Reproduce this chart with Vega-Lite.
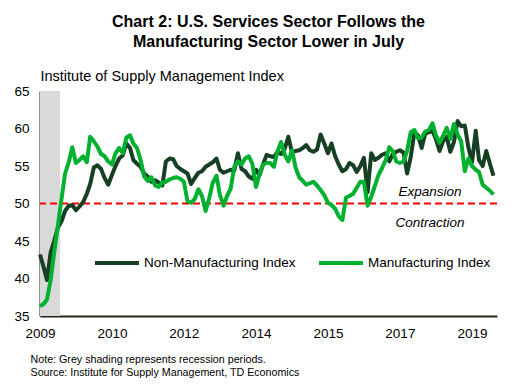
{
  "$schema": "https://vega.github.io/schema/vega-lite/v6.json",
  "width": 457,
  "height": 225,
  "autosize": {"type": "none"},
  "padding": {"left": 40, "top": 91, "right": 21, "bottom": 69},
  "background": "white",
  "title": {
    "text": ["Chart 2: U.S. Services Sector Follows the", "Manufacturing Sector Lower in July"],
    "font": "Liberation Sans",
    "fontSize": 16,
    "fontWeight": "bold",
    "color": "black",
    "anchor": "middle",
    "lineHeight": 20,
    "offset": 18
  },
  "config": {
    "view": {"stroke": null},
    "font": "Liberation Sans",
    "axis": {"grid": false, "ticks": false, "labelOverlap": false, "labelFlush": false, "labelColor": "black", "titleColor": "black", "domainColor": "#262616", "domainWidth": 2, "labelFont": "Liberation Sans", "titleFont": "Liberation Sans"},
    "axisX": {
      "format": "%Y",
      "labelFontSize": 13.5,
      "labelPadding": 10,
      "titleFontSize": 10.7,
      "titleFontWeight": "normal",
      "titleAnchor": "start",
      "titleAlign": "left",
      "titleBaseline": "alphabetic",
      "titleX": -10,
      "titleY": 46,
      "titleLineHeight": 13
    },
    "axisY": {
      "labelFontSize": 13.5,
      "labelPadding": 11,
      "titleAngle": 0,
      "titleX": 0,
      "titleY": -11,
      "titleAlign": "left",
      "titleBaseline": "alphabetic",
      "titleFontSize": 14.5,
      "titleFontWeight": "normal"
    }
  },
  "layer": [
    {
      "data": {"values": [{"start": "2009-01-01", "end": "2009-06-20"}]},
      "mark": {"type": "rect", "color": "#d9d9d9"},
      "encoding": {
        "x": {"field": "start", "type": "temporal", "title": ["Note: Grey shading represents recession periods.", "Source: Institute for Supply Management, TD Economics"],
          "axis": {"labelOverlap": false, "format": "%Y", "values": [
            {"year": 2009, "month": 1, "date": 1, "utc": true},
            {"year": 2010, "month": 9, "date": 1, "utc": true},
            {"year": 2012, "month": 5, "date": 1, "utc": true},
            {"year": 2014, "month": 1, "date": 1, "utc": true},
            {"year": 2015, "month": 9, "date": 1, "utc": true},
            {"year": 2017, "month": 5, "date": 1, "utc": true},
            {"year": 2019, "month": 1, "date": 1, "utc": true}
          ]}},
        "x2": {"field": "end"}
      }
    },
    {
      "data": {"values": [{"level": 50}]},
      "mark": {"type": "rule", "color": "#ff0000", "strokeWidth": 2, "strokeDash": [7, 4]},
      "encoding": {
        "y": {"field": "level", "type": "quantitative", "title": "Institute of Supply Management Index", "scale": {"domain": [35, 65], "nice": false, "zero": false}, "axis": {"labelOverlap": false, "values": [35, 40, 45, 50, 55, 60, 65]}}
      }
    },
    {
      "data": {"values": [
        {"d": "2009-01-01", "nonmanufacturing": 43.2, "manufacturing": 36.3},
        {"d": "2009-02-01", "nonmanufacturing": 41.5, "manufacturing": 36.6},
        {"d": "2009-03-01", "nonmanufacturing": 39.8, "manufacturing": 37.2},
        {"d": "2009-04-01", "nonmanufacturing": 43.5, "manufacturing": 39.8},
        {"d": "2009-05-01", "nonmanufacturing": 45.0, "manufacturing": 43.5},
        {"d": "2009-06-01", "nonmanufacturing": 46.8, "manufacturing": 47.0},
        {"d": "2009-07-01", "nonmanufacturing": 47.6, "manufacturing": 50.5},
        {"d": "2009-08-01", "nonmanufacturing": 49.0, "manufacturing": 54.0},
        {"d": "2009-09-01", "nonmanufacturing": 49.7, "manufacturing": 55.5},
        {"d": "2009-10-01", "nonmanufacturing": 49.8, "manufacturing": 57.5},
        {"d": "2009-11-01", "nonmanufacturing": 49.1, "manufacturing": 55.4},
        {"d": "2009-12-01", "nonmanufacturing": 49.6, "manufacturing": 55.8},
        {"d": "2010-01-01", "nonmanufacturing": 50.2, "manufacturing": 56.3},
        {"d": "2010-02-01", "nonmanufacturing": 51.3, "manufacturing": 55.5},
        {"d": "2010-03-01", "nonmanufacturing": 52.6, "manufacturing": 58.9},
        {"d": "2010-04-01", "nonmanufacturing": 54.8, "manufacturing": 58.3},
        {"d": "2010-05-01", "nonmanufacturing": 55.1, "manufacturing": 57.6},
        {"d": "2010-06-01", "nonmanufacturing": 54.6, "manufacturing": 56.6},
        {"d": "2010-07-01", "nonmanufacturing": 53.4, "manufacturing": 56.3},
        {"d": "2010-08-01", "nonmanufacturing": 52.5, "manufacturing": 55.6},
        {"d": "2010-09-01", "nonmanufacturing": 53.8, "manufacturing": 55.2},
        {"d": "2010-10-01", "nonmanufacturing": 55.0, "manufacturing": 56.7},
        {"d": "2010-11-01", "nonmanufacturing": 56.0, "manufacturing": 57.4},
        {"d": "2010-12-01", "nonmanufacturing": 56.4, "manufacturing": 56.7},
        {"d": "2011-01-01", "nonmanufacturing": 58.0, "manufacturing": 58.8},
        {"d": "2011-02-01", "nonmanufacturing": 57.4, "manufacturing": 59.1},
        {"d": "2011-03-01", "nonmanufacturing": 55.8, "manufacturing": 58.0},
        {"d": "2011-04-01", "nonmanufacturing": 55.3, "manufacturing": 57.4},
        {"d": "2011-05-01", "nonmanufacturing": 54.9, "manufacturing": 55.8},
        {"d": "2011-06-01", "nonmanufacturing": 54.0, "manufacturing": 53.6},
        {"d": "2011-07-01", "nonmanufacturing": 53.6, "manufacturing": 53.0},
        {"d": "2011-08-01", "nonmanufacturing": 52.9, "manufacturing": 53.5},
        {"d": "2011-09-01", "nonmanufacturing": 53.1, "manufacturing": 52.4},
        {"d": "2011-10-01", "nonmanufacturing": 52.8, "manufacturing": 52.2},
        {"d": "2011-11-01", "nonmanufacturing": 52.4, "manufacturing": 52.8},
        {"d": "2011-12-01", "nonmanufacturing": 55.6, "manufacturing": 52.9},
        {"d": "2012-01-01", "nonmanufacturing": 56.0, "manufacturing": 53.2},
        {"d": "2012-02-01", "nonmanufacturing": 55.9, "manufacturing": 53.4},
        {"d": "2012-03-01", "nonmanufacturing": 55.0, "manufacturing": 53.5},
        {"d": "2012-04-01", "nonmanufacturing": 54.6, "manufacturing": 53.3},
        {"d": "2012-05-01", "nonmanufacturing": 54.3, "manufacturing": 52.9},
        {"d": "2012-06-01", "nonmanufacturing": 54.0, "manufacturing": 50.3},
        {"d": "2012-07-01", "nonmanufacturing": 52.6, "manufacturing": 50.1},
        {"d": "2012-08-01", "nonmanufacturing": 53.4, "manufacturing": 50.6},
        {"d": "2012-09-01", "nonmanufacturing": 54.1, "manufacturing": 51.9},
        {"d": "2012-10-01", "nonmanufacturing": 54.3, "manufacturing": 51.0},
        {"d": "2012-11-01", "nonmanufacturing": 54.9, "manufacturing": 49.0},
        {"d": "2012-12-01", "nonmanufacturing": 55.2, "manufacturing": 50.7},
        {"d": "2013-01-01", "nonmanufacturing": 55.5, "manufacturing": 52.8},
        {"d": "2013-02-01", "nonmanufacturing": 56.0, "manufacturing": 53.7},
        {"d": "2013-03-01", "nonmanufacturing": 54.5, "manufacturing": 51.2},
        {"d": "2013-04-01", "nonmanufacturing": 54.1, "manufacturing": 49.7},
        {"d": "2013-05-01", "nonmanufacturing": 54.3, "manufacturing": 51.0},
        {"d": "2013-06-01", "nonmanufacturing": 54.5, "manufacturing": 52.0},
        {"d": "2013-07-01", "nonmanufacturing": 54.4, "manufacturing": 54.9},
        {"d": "2013-08-01", "nonmanufacturing": 56.7, "manufacturing": 55.6},
        {"d": "2013-09-01", "nonmanufacturing": 54.6, "manufacturing": 55.2},
        {"d": "2013-10-01", "nonmanufacturing": 54.3, "manufacturing": 56.0},
        {"d": "2013-11-01", "nonmanufacturing": 53.6, "manufacturing": 56.3},
        {"d": "2013-12-01", "nonmanufacturing": 53.3, "manufacturing": 55.3},
        {"d": "2014-01-01", "nonmanufacturing": 54.5, "manufacturing": 52.2},
        {"d": "2014-02-01", "nonmanufacturing": 53.8, "manufacturing": 54.0},
        {"d": "2014-03-01", "nonmanufacturing": 55.2, "manufacturing": 55.2},
        {"d": "2014-04-01", "nonmanufacturing": 56.5, "manufacturing": 55.4},
        {"d": "2014-05-01", "nonmanufacturing": 56.3, "manufacturing": 55.4},
        {"d": "2014-06-01", "nonmanufacturing": 56.2, "manufacturing": 54.9},
        {"d": "2014-07-01", "nonmanufacturing": 56.9, "manufacturing": 56.9},
        {"d": "2014-08-01", "nonmanufacturing": 56.6, "manufacturing": 58.2},
        {"d": "2014-09-01", "nonmanufacturing": 57.3, "manufacturing": 56.5},
        {"d": "2014-10-01", "nonmanufacturing": 58.9, "manufacturing": 55.6},
        {"d": "2014-11-01", "nonmanufacturing": 56.8, "manufacturing": 57.1},
        {"d": "2014-12-01", "nonmanufacturing": 57.0, "manufacturing": 54.8},
        {"d": "2015-01-01", "nonmanufacturing": 57.1, "manufacturing": 53.5},
        {"d": "2015-02-01", "nonmanufacturing": 57.4, "manufacturing": 53.0},
        {"d": "2015-03-01", "nonmanufacturing": 57.8, "manufacturing": 52.5},
        {"d": "2015-04-01", "nonmanufacturing": 57.1, "manufacturing": 52.7},
        {"d": "2015-05-01", "nonmanufacturing": 56.9, "manufacturing": 52.9},
        {"d": "2015-06-01", "nonmanufacturing": 57.2, "manufacturing": 52.4},
        {"d": "2015-07-01", "nonmanufacturing": 59.2, "manufacturing": 51.8},
        {"d": "2015-08-01", "nonmanufacturing": 58.0, "manufacturing": 51.1},
        {"d": "2015-09-01", "nonmanufacturing": 56.7, "manufacturing": 50.1},
        {"d": "2015-10-01", "nonmanufacturing": 58.0, "manufacturing": 49.8},
        {"d": "2015-11-01", "nonmanufacturing": 56.3, "manufacturing": 49.3},
        {"d": "2015-12-01", "nonmanufacturing": 55.2, "manufacturing": 48.3},
        {"d": "2016-01-01", "nonmanufacturing": 54.3, "manufacturing": 47.8},
        {"d": "2016-02-01", "nonmanufacturing": 54.6, "manufacturing": 50.8},
        {"d": "2016-03-01", "nonmanufacturing": 55.4, "manufacturing": 51.0},
        {"d": "2016-04-01", "nonmanufacturing": 55.1, "manufacturing": 51.3},
        {"d": "2016-05-01", "nonmanufacturing": 54.2, "manufacturing": 52.1},
        {"d": "2016-06-01", "nonmanufacturing": 55.0, "manufacturing": 52.9},
        {"d": "2016-07-01", "nonmanufacturing": 56.1, "manufacturing": 52.9},
        {"d": "2016-08-01", "nonmanufacturing": 51.5, "manufacturing": 49.7},
        {"d": "2016-09-01", "nonmanufacturing": 56.7, "manufacturing": 50.9},
        {"d": "2016-10-01", "nonmanufacturing": 55.8, "manufacturing": 52.3},
        {"d": "2016-11-01", "nonmanufacturing": 56.1, "manufacturing": 53.8},
        {"d": "2016-12-01", "nonmanufacturing": 56.5, "manufacturing": 54.7},
        {"d": "2017-01-01", "nonmanufacturing": 56.7, "manufacturing": 55.8},
        {"d": "2017-02-01", "nonmanufacturing": 55.6, "manufacturing": 57.5},
        {"d": "2017-03-01", "nonmanufacturing": 56.6, "manufacturing": 57.0},
        {"d": "2017-04-01", "nonmanufacturing": 56.9, "manufacturing": 55.6},
        {"d": "2017-05-01", "nonmanufacturing": 57.1, "manufacturing": 55.4},
        {"d": "2017-06-01", "nonmanufacturing": 56.8, "manufacturing": 55.6},
        {"d": "2017-07-01", "nonmanufacturing": 54.0, "manufacturing": 57.0},
        {"d": "2017-08-01", "nonmanufacturing": 56.2, "manufacturing": 59.5},
        {"d": "2017-09-01", "nonmanufacturing": 59.5, "manufacturing": 59.8},
        {"d": "2017-10-01", "nonmanufacturing": 59.1, "manufacturing": 58.7},
        {"d": "2017-11-01", "nonmanufacturing": 57.4, "manufacturing": 58.8},
        {"d": "2017-12-01", "nonmanufacturing": 59.3, "manufacturing": 59.6},
        {"d": "2018-01-01", "nonmanufacturing": 59.5, "manufacturing": 59.8},
        {"d": "2018-02-01", "nonmanufacturing": 59.7, "manufacturing": 60.7},
        {"d": "2018-03-01", "nonmanufacturing": 58.6, "manufacturing": 59.1},
        {"d": "2018-04-01", "nonmanufacturing": 57.0, "manufacturing": 58.1},
        {"d": "2018-05-01", "nonmanufacturing": 58.3, "manufacturing": 59.0},
        {"d": "2018-06-01", "nonmanufacturing": 58.9, "manufacturing": 60.1},
        {"d": "2018-07-01", "nonmanufacturing": 56.9, "manufacturing": 58.6},
        {"d": "2018-08-01", "nonmanufacturing": 58.2, "manufacturing": 60.6},
        {"d": "2018-09-01", "nonmanufacturing": 61.0, "manufacturing": 59.2},
        {"d": "2018-10-01", "nonmanufacturing": 60.3, "manufacturing": 58.3},
        {"d": "2018-11-01", "nonmanufacturing": 60.4, "manufacturing": 54.3},
        {"d": "2018-12-01", "nonmanufacturing": 57.5, "manufacturing": 56.0},
        {"d": "2019-01-01", "nonmanufacturing": 55.5, "manufacturing": 55.0},
        {"d": "2019-02-01", "nonmanufacturing": 59.7, "manufacturing": 54.5},
        {"d": "2019-03-01", "nonmanufacturing": 55.8, "manufacturing": 54.2},
        {"d": "2019-04-01", "nonmanufacturing": 55.0, "manufacturing": 52.5},
        {"d": "2019-05-01", "nonmanufacturing": 57.0, "manufacturing": 52.1},
        {"d": "2019-06-01", "nonmanufacturing": 55.3, "manufacturing": 51.7},
        {"d": "2019-07-01", "nonmanufacturing": 53.7, "manufacturing": 51.2}
      ]},
      "transform": [{"fold": ["nonmanufacturing", "manufacturing"], "as": ["series", "value"]}],
      "mark": {"type": "line", "strokeWidth": 4, "strokeJoin": "round", "strokeCap": "butt"},
      "encoding": {
        "x": {
          "field": "d",
          "type": "temporal",
          "title": ["Note: Grey shading represents recession periods.", "Source: Institute for Supply Management, TD Economics"],
          "scale": {"type": "utc", "domain": [{"year": 2009, "month": 1, "date": 1, "utc": true}, {"year": 2019, "month": 7, "date": 31, "utc": true}], "nice": false},
          "axis": {"labelOverlap": false, "format": "%Y", "values": [
            {"year": 2009, "month": 1, "date": 1, "utc": true},
            {"year": 2010, "month": 9, "date": 1, "utc": true},
            {"year": 2012, "month": 5, "date": 1, "utc": true},
            {"year": 2014, "month": 1, "date": 1, "utc": true},
            {"year": 2015, "month": 9, "date": 1, "utc": true},
            {"year": 2017, "month": 5, "date": 1, "utc": true},
            {"year": 2019, "month": 1, "date": 1, "utc": true}
          ]}
        },
        "y": {
          "field": "value",
          "type": "quantitative",
          "title": "Institute of Supply Management Index",
          "scale": {"domain": [35, 65], "nice": false, "zero": false},
          "axis": {"labelOverlap": false, "values": [35, 40, 45, 50, 55, 60, 65]}
        },
        "color": {
          "field": "series",
          "type": "nominal",
          "scale": {"domain": ["nonmanufacturing", "manufacturing"], "range": ["#173f24", "#00b12f"]},
          "legend": {
            "orient": "none",
            "legendX": 53,
            "legendY": 148,
            "direction": "horizontal",
            "title": null,
            "symbolType": "stroke",
            "symbolSize": 1936,
            "symbolStrokeWidth": 4,
            "labelFontSize": 13.5,
            "labelColor": "black",
            "labelOffset": 3,
            "columnPadding": 15,
            "labelExpr": "datum.label == 'nonmanufacturing' ? 'Non-Manufacturing Index' : 'Manufacturing Index'"
          }
        }
      }
    },
    {
      "data": {"values": [
        {"label": "Expansion", "d": "2018-01-10", "value": 51.0},
        {"label": "Contraction", "d": "2018-01-10", "value": 46.9}
      ]},
      "mark": {"type": "text", "fontStyle": "italic", "fontSize": 13.5, "align": "center", "baseline": "alphabetic", "color": "black"},
      "encoding": {
        "x": {"field": "d", "type": "temporal", "title": ["Note: Grey shading represents recession periods.", "Source: Institute for Supply Management, TD Economics"],
          "axis": {"labelOverlap": false, "format": "%Y", "values": [
            {"year": 2009, "month": 1, "date": 1, "utc": true},
            {"year": 2010, "month": 9, "date": 1, "utc": true},
            {"year": 2012, "month": 5, "date": 1, "utc": true},
            {"year": 2014, "month": 1, "date": 1, "utc": true},
            {"year": 2015, "month": 9, "date": 1, "utc": true},
            {"year": 2017, "month": 5, "date": 1, "utc": true},
            {"year": 2019, "month": 1, "date": 1, "utc": true}
          ]}},
        "y": {"field": "value", "type": "quantitative", "title": "Institute of Supply Management Index", "axis": {"labelOverlap": false, "values": [35, 40, 45, 50, 55, 60, 65]}},
        "text": {"field": "label"}
      }
    }
  ]
}
